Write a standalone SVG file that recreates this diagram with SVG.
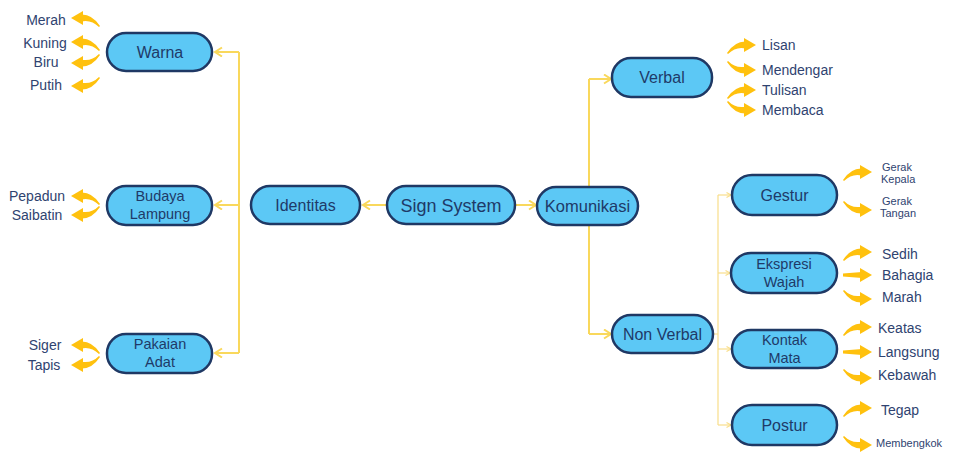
<svg xmlns="http://www.w3.org/2000/svg" xmlns:xlink="http://www.w3.org/1999/xlink" width="955" height="452" viewBox="0 0 955 452">
<defs>
<style>
.node rect{fill:#5CC8F5;stroke:#1F3864;stroke-width:2.5}
.nt{font-family:"Liberation Sans",Arial,sans-serif;fill:#1F3A68;text-anchor:middle}
.lt{font-family:"Liberation Sans",Arial,sans-serif;fill:#2F4370;font-size:14px}
.lm{text-anchor:middle}
.sm{font-size:11px}
.c1{fill:none;stroke:#F9D85C;stroke-width:2}
.c2{fill:none;stroke:#F9DE8A;stroke-width:1.2}
.sw{fill:#FFC10E}
</style>
<marker id="ah" markerUnits="userSpaceOnUse" markerWidth="12" markerHeight="12" refX="8" refY="5" orient="auto">
<path d="M1,0.5 L8,5 L1,9.5" fill="none" stroke="#F9D85C" stroke-width="2"/>
</marker>
<marker id="ah2" markerUnits="userSpaceOnUse" markerWidth="8" markerHeight="8" refX="5" refY="3" orient="auto">
<path d="M0.5,0.5 L5,3 L0.5,5.5" fill="none" stroke="#F9DE8A" stroke-width="1.2"/>
</marker>
<g id="arc">
<path class="sw" d="M0,12 Q8,0 19,0.5 L19,7.5 Q9,5 1,13 Z"/>
<polygon class="sw" points="17,-3 29,4 17,11"/>
</g>
<g id="str">
<path class="sw" d="M0,2.5 L19,1 L19,7 L0,5.5 Z"/>
<polygon class="sw" points="17,-3 29,4 17,11"/>
</g>
</defs>

<g id="connectors">
<path class="c1" d="M239,52 L239,353"/>
<path class="c1" d="M239,52 L215,52" marker-end="url(#ah)"/>
<path class="c1" d="M239,205 L215,205" marker-end="url(#ah)"/>
<path class="c1" d="M239,353 L215,353" marker-end="url(#ah)"/>
<path class="c1" d="M387,205 L363,205" marker-end="url(#ah)"/>
<path class="c1" d="M515,205 L536,205" marker-end="url(#ah)"/>
<path class="c1" d="M589,334 L589,79"/>
<path class="c1" d="M589,79 L611,79" marker-end="url(#ah)"/>
<path class="c1" d="M589,334 L611,334" marker-end="url(#ah)"/>
<path class="c2" d="M713,334 L718,334 M718,195 L718,425"/>
<path class="c2" d="M718,195 L731,195" marker-end="url(#ah2)"/>
<path class="c2" d="M718,273 L730,273" marker-end="url(#ah2)"/>
<path class="c2" d="M718,349 L731,349" marker-end="url(#ah2)"/>
<path class="c2" d="M718,425 L731,425" marker-end="url(#ah2)"/>
</g>

<g id="swooshes">
<use xlink:href="#arc" transform="translate(100,14) scale(-1,1)"/>
<use xlink:href="#arc" transform="translate(100,38) scale(-1,1)"/>
<use xlink:href="#arc" transform="translate(100,67) scale(-1,-1)"/>
<use xlink:href="#arc" transform="translate(100,90) scale(-1,-1)"/>
<use xlink:href="#arc" transform="translate(100,192) scale(-1,1)"/>
<use xlink:href="#arc" transform="translate(100,219) scale(-1,-1)"/>
<use xlink:href="#arc" transform="translate(100,341) scale(-1,1)"/>
<use xlink:href="#arc" transform="translate(100,369) scale(-1,-1)"/>
<use xlink:href="#arc" transform="translate(727,41)"/>
<use xlink:href="#arc" transform="translate(727,74) scale(1,-1)"/>
<use xlink:href="#arc" transform="translate(727,86)"/>
<use xlink:href="#arc" transform="translate(727,114) scale(1,-1)"/>
<use xlink:href="#arc" transform="translate(843,168)"/>
<use xlink:href="#arc" transform="translate(843,214) scale(1,-1)"/>
<use xlink:href="#arc" transform="translate(843,248)"/>
<use xlink:href="#str" transform="translate(843,271)"/>
<use xlink:href="#arc" transform="translate(843,303) scale(1,-1)"/>
<use xlink:href="#arc" transform="translate(843,323)"/>
<use xlink:href="#str" transform="translate(843,348)"/>
<use xlink:href="#arc" transform="translate(843,382) scale(1,-1)"/>
<use xlink:href="#arc" transform="translate(843,404)"/>
<use xlink:href="#arc" transform="translate(843,449) scale(1,-1)"/>
</g>

<g id="leaves">
<text class="lt lm" x="46" y="25">Merah</text>
<text class="lt lm" x="45" y="48">Kuning</text>
<text class="lt lm" x="46" y="67">Biru</text>
<text class="lt lm" x="46" y="90">Putih</text>
<text class="lt lm" x="37" y="201">Pepadun</text>
<text class="lt lm" x="37" y="220">Saibatin</text>
<text class="lt lm" x="45" y="350">Siger</text>
<text class="lt lm" x="44" y="370">Tapis</text>
<text class="lt" x="762" y="50">Lisan</text>
<text class="lt" x="762" y="75">Mendengar</text>
<text class="lt" x="762" y="95">Tulisan</text>
<text class="lt" x="762" y="115">Membaca</text>
<text class="lt sm" x="882" y="171">Gerak</text>
<text class="lt sm" x="881" y="183">Kepala</text>
<text class="lt sm" x="882" y="205">Gerak</text>
<text class="lt sm" x="880" y="217">Tangan</text>
<text class="lt" x="882" y="259">Sedih</text>
<text class="lt" x="882" y="280">Bahagia</text>
<text class="lt" x="882" y="302">Marah</text>
<text class="lt" x="878" y="333">Keatas</text>
<text class="lt" x="878" y="357">Langsung</text>
<text class="lt" x="878" y="380">Kebawah</text>
<text class="lt" x="881" y="415">Tegap</text>
<text class="lt sm" x="876" y="447">Membengkok</text>
</g>

<g id="warna" class="node"><rect x="107" y="33" width="105" height="38" rx="19"/><text class="nt" x="160" y="58" font-size="16">Warna</text></g>
<g id="budaya" class="node"><rect x="107" y="186" width="105" height="39" rx="19"/><text class="nt" x="160" y="201" font-size="14.5">Budaya</text><text class="nt" x="160" y="219" font-size="14.5">Lampung</text></g>
<g id="pakaian" class="node"><rect x="107" y="334" width="105" height="39" rx="19"/><text class="nt" x="160" y="349" font-size="14.5">Pakaian</text><text class="nt" x="160" y="367" font-size="14.5">Adat</text></g>
<g id="identitas" class="node"><rect x="251" y="186" width="109" height="38" rx="19"/><text class="nt" x="305.5" y="211" font-size="16">Identitas</text></g>
<g id="signsystem" class="node"><rect x="387" y="186" width="128" height="38" rx="19"/><text class="nt" x="451" y="212" font-size="18">Sign System</text></g>
<g id="komunikasi" class="node"><rect x="537" y="187" width="101" height="38" rx="19"/><text class="nt" x="587.5" y="212" font-size="16.5">Komunikasi</text></g>
<g id="verbal" class="node"><rect x="612" y="58" width="100" height="39" rx="19"/><text class="nt" x="662" y="83" font-size="16">Verbal</text></g>
<g id="nonverbal" class="node"><rect x="612" y="315" width="101" height="38" rx="19"/><text class="nt" x="662.5" y="340" font-size="16">Non Verbal</text></g>
<g id="gestur" class="node"><rect x="732" y="175" width="105" height="40" rx="20"/><text class="nt" x="784.5" y="201" font-size="16">Gestur</text></g>
<g id="ekspresi" class="node"><rect x="731" y="253" width="106" height="40" rx="20"/><text class="nt" x="784" y="269" font-size="14.5">Ekspresi</text><text class="nt" x="784" y="287" font-size="14.5">Wajah</text></g>
<g id="kontak" class="node"><rect x="732" y="330" width="105" height="38" rx="19"/><text class="nt" x="784.5" y="345" font-size="14.5">Kontak</text><text class="nt" x="784.5" y="363" font-size="14.5">Mata</text></g>
<g id="postur" class="node"><rect x="732" y="405" width="105" height="40" rx="20"/><text class="nt" x="784.5" y="431" font-size="16">Postur</text></g>
</svg>
